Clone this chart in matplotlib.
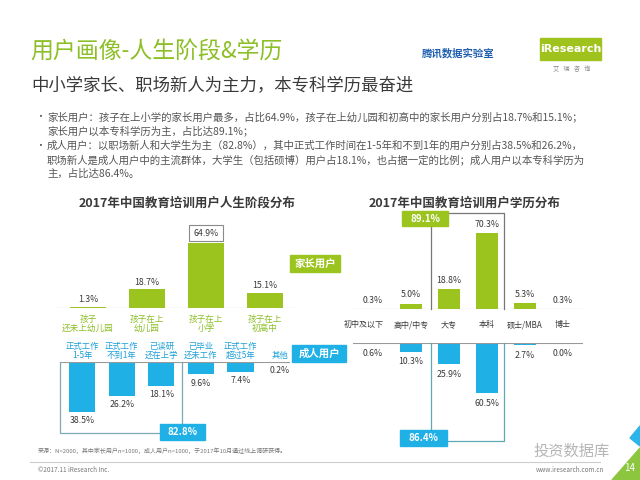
import matplotlib
matplotlib.use("Agg")
import matplotlib.pyplot as plt
from matplotlib.patches import Rectangle, Polygon

plt.rcParams["font.family"] = ["Noto Sans CJK SC", "DejaVu Sans"]

W, H = 640, 480
GREEN = "#9cc41e"
GREEN_TXT = "#8cbf26"
BLUE = "#1fb0e6"
BLUE_TXT = "#1a9fd6"
DARK = "#3a3a3a"
GRAY = "#555555"

# ---- data ----
stage_cats = ["孩子\n还未上幼儿园", "孩子在上\n幼儿园", "孩子在上\n小学", "孩子在上\n初高中"]
stage_vals = [1.3, 18.7, 64.9, 15.1]
adult_cats = ["正式工作\n1-5年", "正式工作\n不到1年", "已读研\n还在上学",
              "已毕业\n还未工作", "正式工作\n超过5年", "其他"]
adult_vals = [38.5, 26.2, 18.1, 9.6, 7.4, 0.2]
edu_cats = ["初中及以下", "高中/中专", "大专", "本科", "硕士/MBA", "博士"]
parent_edu = [0.3, 5.0, 18.8, 70.3, 5.3, 0.3]
adult_edu = [0.6, 10.3, 25.9, 60.5, 2.7, 0.0]

adult_main = round(sum(adult_vals[:3]), 1)
parent_core = round(sum(parent_edu[2:4]), 1)
adult_core = round(sum(adult_edu[2:4]), 1)


def px_rect(x0, y0, x1, y1):
    return [x0 / W, 1 - y1 / H, (x1 - x0) / W, (y1 - y0) / H]


fig = plt.figure(figsize=(6.4, 4.8), dpi=100)
over = fig.add_axes([0, 0, 1, 1], zorder=0)
over.set_xlim(0, W)
over.set_ylim(H, 0)
over.axis("off")

# ---- header ----
over.text(30, 52, "用户画像-人生阶段&学历", fontsize=16.5, color=GREEN_TXT, va="center")
over.text(31, 85, "中小学家长、职场新人为主力，本专科学历最奋进", fontsize=12.5,
          color=DARK, va="center")
over.text(458, 53, "腾讯数据实验室", fontsize=7.5, color="#1f5fae",
          fontweight="bold", ha="center", va="center")
over.add_patch(Rectangle((540, 38), 61, 22, color="#9fc31c"))
over.text(570.5, 49, "iResearch", fontsize=8, color="white", ha="center", va="center",
          fontweight="bold", family="DejaVu Sans")
over.text(572, 69, "艾   瑞   咨   询", fontsize=4.5, color="#888888", ha="center", va="center")

bullets = [
    (117, "•", "家长用户：孩子在上小学的家长用户最多，占比64.9%，孩子在上幼儿园和初高中的家长用户分别占18.7%和15.1%；"),
    (131, "", "家长用户以本专科学历为主，占比达89.1%；"),
    (146, "•", "成人用户：以职场新人和大学生为主（82.8%），其中正式工作时间在1-5年和不到1年的用户分别占38.5%和26.2%，"),
    (160, "", "职场新人是成人用户中的主流群体，大学生（包括硕博）用户占18.1%，也占据一定的比例；成人用户以本专科学历为"),
    (174, "", "主，占比达86.4%。"),
]
for y, mark, line in bullets:
    if mark:
        over.text(35, y, mark, fontsize=7, color=GRAY, va="center")
    over.text(47, y, line, fontsize=7.5, color=GRAY, va="center")

over.text(187, 203, "2017年中国教育培训用户人生阶段分布", fontsize=9, fontweight="bold",
          color=DARK, ha="center", va="center")
over.text(465, 203, "2017年中国教育培训用户学历分布", fontsize=9, fontweight="bold",
          color=DARK, ha="center", va="center")

# ---- upper left: parent life stage ----
ax1 = fig.add_axes(px_rect(55, 230, 295, 308), zorder=2)
x1 = list(range(len(stage_vals)))
ax1.bar(x1, stage_vals, width=0.61, color=GREEN)
ax1.set_xlim(-0.56, 3.51)
ax1.set_ylim(0, 78)
for i, v in zip(x1, stage_vals):
    box = None
    if v == max(stage_vals):
        box = dict(boxstyle="square,pad=0.45", fc="white", ec="#8a8a8a", lw=0.8)
    ax1.annotate(f"{v}%", (i, v), xytext=(0, 4 if box else 2), textcoords="offset points",
                 ha="center", va="bottom", fontsize=6.3, color=DARK, bbox=box,
                 annotation_clip=False)
    ax1.annotate(stage_cats[i], (i, 0), xytext=(0, -5), textcoords="offset points",
                 ha="center", va="top", fontsize=6.2, color=GREEN_TXT,
                 linespacing=1.05, annotation_clip=False)
ax1.axhline(0, color="#999999", lw=0.8)
ax1.axis("off")
ax1.patch.set_alpha(0)

# ---- lower left: adult life stage ----
ax2 = fig.add_axes(px_rect(60, 362, 290, 440), zorder=2)
x2 = list(range(len(adult_vals)))
ax2.bar(x2, [-v for v in adult_vals], width=0.66, color=BLUE)
ax2.set_xlim(-0.56, 5.25)
ax2.set_ylim(-60, 0)
for i, v in zip(x2, adult_vals):
    ax2.annotate(f"{v}%", (i, -v), xytext=(0, -3), textcoords="offset points",
                 ha="center", va="top", fontsize=6.3, color=DARK, annotation_clip=False)
    ax2.annotate(adult_cats[i], (i, 0), xytext=(0, 1.5), textcoords="offset points",
                 ha="center", va="bottom", fontsize=6.0, color=BLUE_TXT,
                 linespacing=1.0, annotation_clip=False)
ax2.axhline(0, color="#999999", lw=0.8)
ax2.plot([-0.56, -0.56, 2.53, 2.53], [0, -54.6, -54.6, 0], color="#7ea8b8",
         lw=0.9, clip_on=False)
ax2.axis("off")
ax2.patch.set_alpha(0)

# ---- upper right: parent education ----
ax3 = fig.add_axes(px_rect(353, 225, 583, 309), zorder=2)
x3 = list(range(len(parent_edu)))
ax3.bar(x3, parent_edu, width=0.6, color=GREEN)
ax3.set_xlim(-0.53, 5.53)
ax3.set_ylim(0, 77.8)
for i, v in zip(x3, parent_edu):
    ax3.annotate(f"{v}%", (i, v), xytext=(0, 3), textcoords="offset points",
                 ha="center", va="bottom", fontsize=6.3, color=DARK, annotation_clip=False)
    # first label sits a bit left of its bar, as in the source slide
    shift = -7 if i == 0 else 0
    ax3.annotate(edu_cats[i], (i, 0), xytext=(shift, -8), textcoords="offset points",
                 ha="center", va="top", fontsize=5.8, color=DARK, annotation_clip=False)
ax3.axhline(0, color="#999999", lw=0.8)
ax3.plot([1.53, 1.53, 3.45, 3.45], [0, 89, 89, 0], color="#777777", lw=0.9, clip_on=False)
ax3.axis("off")
ax3.patch.set_alpha(0)

# ---- lower right: adult education ----
ax4 = fig.add_axes(px_rect(353, 343, 583, 443), zorder=2)
ax4.bar(x3, [-v for v in adult_edu], width=0.6, color=BLUE)
ax4.set_xlim(-0.53, 5.53)
ax4.set_ylim(-120.5, 0)
for i, v in zip(x3, adult_edu):
    ax4.annotate(f"{v}%", (i, -v), xytext=(0, -4), textcoords="offset points",
                 ha="center", va="top", fontsize=6.3, color=DARK, annotation_clip=False)
ax4.axhline(0, color="#999999", lw=0.8)
ax4.plot([1.53, 1.53, 3.45, 3.45], [0, -118, -118, 0], color="#5fa9b6", lw=0.9,
         clip_on=False)
ax4.axis("off")
ax4.patch.set_alpha(0)

# ---- group tags ----
top = fig.add_axes([0, 0, 1, 1], zorder=5)
top.set_xlim(0, W)
top.set_ylim(H, 0)
top.axis("off")
top.patch.set_alpha(0)


def tag(x, y, w, h, text, color, size=7.5):
    top.add_patch(Rectangle((x, y), w, h, color=color))
    top.text(x + w / 2, y + h / 2, text, fontsize=size, color="white", ha="center",
             va="center", fontweight="bold")


tag(290, 255, 50, 17, "家长用户", GREEN)
tag(292, 345, 54, 17, "成人用户", BLUE)
tag(160, 424, 45, 16, f"{adult_main}%", BLUE, 7)
tag(402, 211, 46, 15, f"{parent_core}%", GREEN, 7)
tag(400, 430, 47, 16, f"{adult_core}%", BLUE, 7)

# ---- footer ----
over.text(38, 451, "来源：N=2000，其中家长用户n=1000，成人用户n=1000，于2017年10月通过线上调研获得。",
          fontsize=4.3, color="#777777", va="center")
over.plot([30, 600], [462, 462], color="#cccccc", lw=0.8)
over.text(38, 470, "©2017.11 iResearch Inc.", fontsize=4.6, color="#777777", va="center")
over.text(604, 470, "www.iresearch.com.cn", fontsize=4.6, color="#777777", ha="right",
          va="center")
over.text(572, 451, "投资数据库", fontsize=11, color="#b5b5b5", ha="center", va="center")
over.add_patch(Polygon([(612, 480), (640, 448), (640, 480)], color="#8cc63f"))
over.add_patch(Polygon([(630, 438), (640, 426), (640, 446)], color="#2db4e8"))
over.text(630, 468, "14", fontsize=7, color="white", ha="center", va="center")

fig.savefig("out.png", dpi=100)
